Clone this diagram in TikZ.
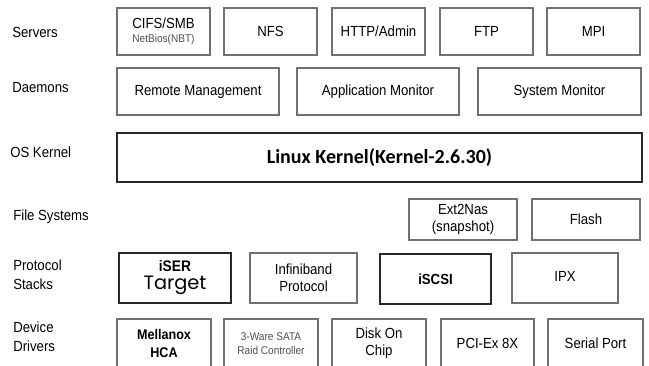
\documentclass[tikz,border=0pt]{standalone}
\usepackage{fontspec}
\setmainfont{Liberation Sans}[FakeStretch=0.9]
\newfontfamily\kfont{Carlito}
\newfontfamily\gfont{Poppins}
\definecolor{boxline}{RGB}{112,112,112}
\definecolor{darkline}{RGB}{40,40,40}
\definecolor{smalltxt}{RGB}{80,80,80}
\begin{document}
\begin{tikzpicture}[x=0.75pt,y=-0.75pt,
  box/.style={draw=boxline,line width=0.9pt,fill=white,inner sep=0pt,align=center,
    font=\fontsize{11}{13}\selectfont,text=black},
  darkbox/.style={box,draw=darkline},
  lbl/.style={anchor=west,inner sep=0pt,align=left,font=\fontsize{11}{14}\selectfont,text=black}]
\useasboundingbox (0,0) rectangle (649,365);
\clip (0,0) rectangle (649,365);
\fill[white] (0,0) rectangle (649,365);
% row labels
\node[lbl] (lserv) at (12,32) {Servers};
\node[lbl] (ldaem) at (12,88) {Daemons};
\node[lbl] (los) at (10,152) {OS Kernel};
\node[lbl] (lfs) at (13,217) {File Systems};
\node[lbl] (lps) at (13,275) {Protocol\\Stacks};
\node[lbl] (ldd) at (13,337) {Device\\Drivers};
% servers
\node[box,minimum width=69.75pt,minimum height=35.25pt] (cifs) at (163.5,31.5)
  {CIFS/SMB\\[-2pt]{\fontsize{8.4}{10}\selectfont\color{smalltxt}NetBios(NBT)}};
\node[box,minimum width=69.75pt,minimum height=35.25pt] (nfs) at (270.5,31.5) {NFS};
\node[box,minimum width=69.75pt,minimum height=35.25pt] (http) at (378.5,31.5) {HTTP/Admin};
\node[box,minimum width=69.75pt,minimum height=35.25pt] (ftp) at (486.5,31.5) {FTP};
\node[box,minimum width=69.75pt,minimum height=35.25pt] (mpi) at (593.5,31.5) {MPI};
% daemons
\node[box,minimum width=121.5pt,minimum height=35.25pt] (remote) at (198,91.5) {Remote Management};
\node[box,minimum width=121.5pt,minimum height=35.25pt] (app) at (378,91.5) {Application Monitor};
\node[box,minimum width=122.25pt,minimum height=35.25pt] (sysmon) at (559.5,91.5) {System Monitor};
% kernel
\node[darkbox,minimum width=393.75pt,minimum height=36.75pt,font=\kfont\bfseries\fontsize{15}{17}\selectfont,text=black] (kernel) at (379.5,157.5) {Linux Kernel(Kernel-2.6.30)};
% file systems
\node[box,minimum width=81pt,minimum height=30.75pt] (ext2) at (463,219.5) {Ext2Nas\\(snapshot)};
\node[box,minimum width=81pt,minimum height=30.75pt] (flash) at (586,219.5) {Flash};
% protocol stacks
\node[darkbox,line width=1.1pt,minimum width=84pt,minimum height=37.5pt] (iser) at (175,278)
  {{\bfseries\fontsize{11.5}{13}\selectfont iSER}\\[0.5pt]{\gfont\fontsize{14.5}{16}\selectfont Target}};
\node[box,minimum width=80.25pt,minimum height=37.5pt] (infini) at (303.5,278) {Infiniband\\Protocol};
\node[darkbox,line width=1.1pt,minimum width=83.25pt,minimum height=37.5pt,font=\bfseries\fontsize{11}{13}\selectfont] (iscsi) at (435.5,279) {iSCSI};
\node[box,minimum width=79.5pt,minimum height=37.5pt] (ipx) at (565,278) {\raisebox{2pt}{IPX}};
% device drivers
\node[box,minimum width=70.5pt,minimum height=36.75pt,font=\bfseries\fontsize{10.5}{13.5}\selectfont] (mell) at (164,343.5) {Mellanox\\HCA};
\node[box,minimum width=70.5pt,minimum height=36.75pt,font=\fontsize{8.4}{11}\selectfont,text=smalltxt] (ware) at (271,343.5) {3-Ware SATA\\Raid Controller};
\node[box,minimum width=70.5pt,minimum height=36.75pt] (disk) at (379,343.5) {Disk On\\Chip};
\node[box,minimum width=69.75pt,minimum height=36.75pt] (pci) at (487.5,343.5) {PCI-Ex 8X};
\node[box,minimum width=71.25pt,minimum height=36.75pt] (serial) at (595.5,343.5) {Serial Port};
\end{tikzpicture}
\end{document}
